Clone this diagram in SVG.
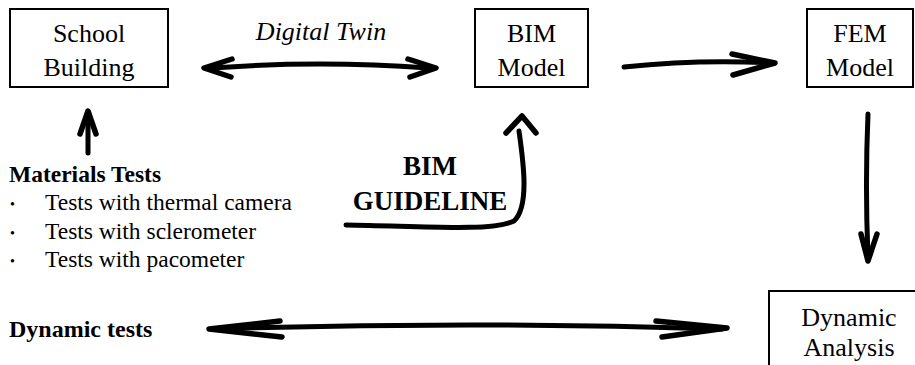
<svg xmlns="http://www.w3.org/2000/svg" width="915" height="365" viewBox="0 0 915 365">
<style>
.box{fill:#fff;stroke:#000;stroke-width:2}
.t{font-family:"Liberation Serif","Times New Roman",serif;font-size:26px;fill:#000}
.c{text-anchor:middle}
.b{font-weight:bold}
.i{font-style:italic}
.ln{fill:none;stroke:#000;stroke-width:5;stroke-linecap:round;stroke-linejoin:round}
.hd{fill:none;stroke:#000;stroke-width:5.5;stroke-linecap:round;stroke-linejoin:round}
</style>
<rect width="915" height="365" fill="#fff"/>
<g id="school">
<rect class="box" x="10" y="9" width="158" height="78"/>
<text class="t c" x="89" y="42">School</text>
<text class="t c" x="89" y="76">Building</text>
</g>
<g id="bim">
<rect class="box" x="475" y="9" width="113" height="78"/>
<text class="t c" x="531.5" y="42">BIM</text>
<text class="t c" x="531.5" y="76">Model</text>
</g>
<g id="fem">
<rect class="box" x="807" y="9" width="106" height="78"/>
<text class="t c" x="860" y="42">FEM</text>
<text class="t c" x="860" y="76">Model</text>
</g>
<g id="dynamic-analysis">
<rect class="box" x="769" y="291" width="150" height="80"/>
<text class="t c" x="849" y="326">Dynamic</text>
<text class="t c" x="849" y="356">Analysis</text>
</g>
<g id="digital-twin">
<text class="t c i" x="321" y="40">Digital Twin</text>
</g>
<g id="materials-tests">
<text class="t b" x="9" y="182" style="font-size:23.5px">Materials Tests</text>
<text class="t" x="10" y="209" style="font-size:14px">•</text>
<text class="t" x="45" y="210" style="font-size:23.5px">Tests with thermal camera</text>
<text class="t" x="10" y="238" style="font-size:14px">•</text>
<text class="t" x="45" y="239" style="font-size:23.5px">Tests with sclerometer</text>
<text class="t" x="10" y="266" style="font-size:14px">•</text>
<text class="t" x="45" y="267" style="font-size:23.5px">Tests with pacometer</text>
</g>
<g id="bim-guideline">
<text class="t b c" x="430" y="175" style="font-size:27px">BIM</text>
<text class="t b c" x="430" y="210" style="font-size:27px">GUIDELINE</text>
</g>
<g id="dynamic-tests">
<text class="t b" x="9" y="337" style="font-size:24px">Dynamic tests</text>
</g>
<g id="connectors">
<path class="ln" d="M212 68 Q320 60 428 68"/>
<path class="hd" d="M232 59 L204 68 L231 77"/>
<path class="hd" d="M408 59 L436 68 L410 77"/>
<path class="ln" d="M624 67 Q700 59 772 63"/>
<path class="hd" d="M732 54 L775 63 L733 75"/>
<path class="ln" d="M88 153 L88 113"/>
<path class="hd" d="M80 134 L88 111 L96 134"/>
<path class="ln" d="M346 225 C420 226 490 232 514 221 C530 206 523 160 519 131"/>
<path class="hd" d="M506 133 L522 116 L536 133"/>
<path class="ln" d="M868 114 C866 160 866 210 868 258"/>
<path class="hd" d="M861 234 L868 261 L877 234"/>
<path class="ln" d="M214 329 Q470 321 722 329"/>
<path class="hd" d="M280 321 L209 329 L282 337"/>
<path class="hd" d="M656 321 L727 328 L662 337"/>
</g>
</svg>
